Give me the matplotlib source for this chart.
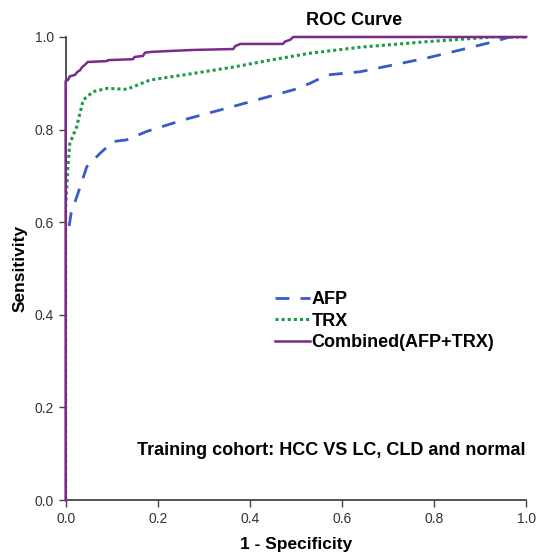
import numpy as np
import matplotlib
matplotlib.use("Agg")
import matplotlib.pyplot as plt

plt.rcParams['font.family'] = ['Liberation Sans', 'DejaVu Sans']

# curve points (1 - specificity, sensitivity)
afp_x = [0.0, 0.0, 0.005, 0.012, 0.027, 0.046, 0.075, 0.103, 0.133, 0.176, 0.256,
         0.364, 0.422, 0.495, 0.531, 0.568, 0.64, 0.713, 0.786, 0.857, 0.93, 0.965, 1.0]
afp_y = [0.0, 0.57, 0.575, 0.62, 0.663, 0.72, 0.749, 0.774, 0.778, 0.796, 0.821,
         0.85, 0.866, 0.886, 0.9, 0.918, 0.925, 0.94, 0.955, 0.972, 0.99, 1.0, 1.0]

trx_x = [0.0, 0.0, 0.005, 0.009, 0.024, 0.038, 0.06, 0.09, 0.133, 0.183, 0.256,
         0.364, 0.444, 0.531, 0.64, 0.786, 0.93, 1.0]
trx_y = [0.0, 0.63, 0.72, 0.77, 0.806, 0.864, 0.882, 0.889, 0.887, 0.907, 0.918,
         0.935, 0.95, 0.965, 0.978, 0.99, 1.0, 1.0]

comb_x = [0.0, 0.0, 0.005, 0.009, 0.02, 0.026, 0.031, 0.036, 0.042, 0.048, 0.09,
          0.092, 0.146, 0.15, 0.168, 0.172, 0.188, 0.277, 0.364, 0.368, 0.379,
          0.472, 0.476, 0.488, 0.494, 1.0]
comb_y = [0.0, 0.905, 0.907, 0.915, 0.918, 0.925, 0.928, 0.935, 0.94, 0.946, 0.948,
          0.95, 0.952, 0.957, 0.959, 0.966, 0.968, 0.972, 0.974, 0.98, 0.985,
          0.985, 0.99, 0.994, 1.0, 1.0]

fig = plt.figure(figsize=(5.38, 5.57), dpi=100)
ax = fig.add_axes([0.122, 0.1023, 0.856, 0.8313])

ax.plot(afp_x, afp_y, color='#3a5bc7', lw=2, linestyle=(0, (5, 4)), label='AFP')
ax.plot(trx_x, trx_y, color='#1e9a46', lw=2.2, linestyle=(0, (1, 1)), label='TRX')
ax.plot(comb_x, comb_y, color='#7b2a8a', lw=1.8, label='Combined(AFP+TRX)',
        zorder=5, clip_on=False)

ax.set_xlim(0, 1)
ax.set_ylim(0, 1)
ticks = [0.0, 0.2, 0.4, 0.6, 0.8, 1.0]
ax.set_xticks(ticks)
ax.set_yticks(ticks)
ax.set_xticklabels(['0.0', '0.2', '0.4', '0.6', '0.8', '1.0'])
ax.set_yticklabels(['0.0', '0.2', '0.4', '0.6', '0.8', '1.0'])
ax.tick_params(direction='out', length=5, width=1, colors='#444444',
               labelsize=10, labelcolor='#333333')
for s in ['top', 'right']:
    ax.spines[s].set_visible(False)
for s in ['left', 'bottom']:
    ax.spines[s].set_color('#444444')
    ax.spines[s].set_linewidth(1.3)

ax.set_xlabel('1 - Specificity', fontsize=12.5, fontweight='bold', labelpad=8)
ax.set_ylabel('Sensitivity', fontsize=12.5, fontweight='bold', labelpad=5)
fig.text(0.658, 0.963, 'ROC Curve', fontsize=13, fontweight='bold', ha='center', va='center')

ax.text(0.998, 0.107, 'Training cohort: HCC VS LC, CLD and normal', fontsize=13,
        fontweight='bold', ha='right', va='center', transform=ax.transAxes)

leg = ax.legend(loc='upper left', bbox_to_anchor=(0.44, 0.467), frameon=False,
                fontsize=13, handlelength=1.9, handletextpad=0.1, labelspacing=0.25,
                borderaxespad=0)
for t in leg.get_texts():
    t.set_fontweight('bold')

fig.savefig('out.png', dpi=100)
